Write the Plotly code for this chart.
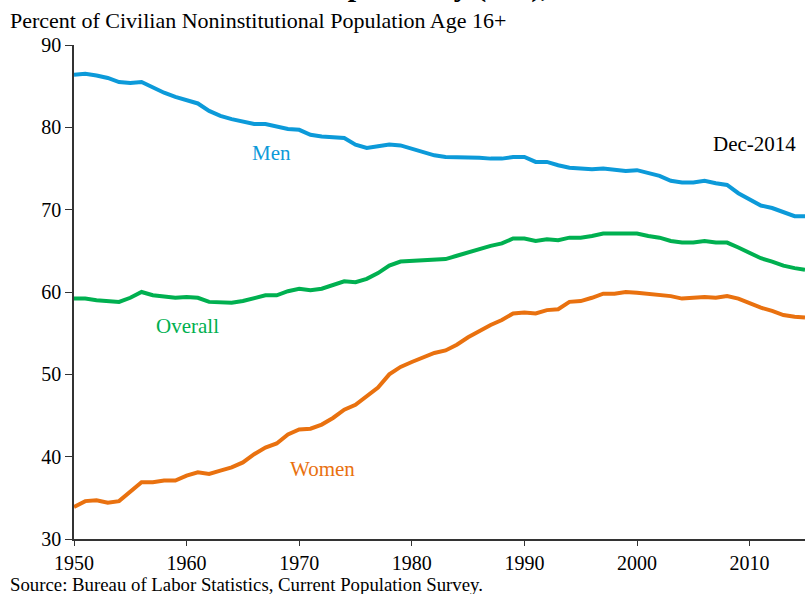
import plotly.graph_objects as go

years = list(range(1950, 2015)) + [2014.92]

men = [86.4, 86.5, 86.3, 86.0, 85.5, 85.4, 85.5, 84.8, 84.2, 83.7,
       83.3, 82.9, 82.0, 81.4, 81.0, 80.7, 80.4, 80.4, 80.1, 79.8,
       79.7, 79.1, 78.9, 78.8, 78.7, 77.9, 77.5, 77.7, 77.9, 77.8,
       77.4, 77.0, 76.6, 76.4, 76.4, 76.3, 76.3, 76.2, 76.2, 76.4,
       76.4, 75.8, 75.8, 75.4, 75.1, 75.0, 74.9, 75.0, 74.9, 74.7,
       74.8, 74.4, 74.1, 73.5, 73.3, 73.3, 73.5, 73.2, 73.0, 72.0,
       71.2, 70.5, 70.2, 69.7, 69.2, 69.2]

overall = [59.2, 59.2, 59.0, 58.9, 58.8, 59.3, 60.0, 59.6, 59.5, 59.3,
           59.4, 59.3, 58.8, 58.7, 58.7, 58.9, 59.2, 59.6, 59.6, 60.1,
           60.4, 60.2, 60.4, 60.8, 61.3, 61.2, 61.6, 62.3, 63.2, 63.7,
           63.8, 63.9, 64.0, 64.0, 64.4, 64.8, 65.3, 65.6, 65.9, 66.5,
           66.5, 66.2, 66.4, 66.3, 66.6, 66.6, 66.8, 67.1, 67.1, 67.1,
           67.1, 66.8, 66.6, 66.2, 66.0, 66.0, 66.2, 66.0, 66.0, 65.4,
           64.7, 64.1, 63.7, 63.2, 62.9, 62.7]

women = [33.9, 34.6, 34.7, 34.4, 34.6, 35.7, 36.9, 36.9, 37.1, 37.1,
         37.7, 38.1, 37.9, 38.3, 38.7, 39.3, 40.3, 41.1, 41.6, 42.7,
         43.3, 43.4, 43.9, 44.7, 45.7, 46.3, 47.3, 48.4, 50.0, 50.9,
         51.5, 52.1, 52.6, 52.9, 53.6, 54.5, 55.3, 56.0, 56.6, 57.4,
         57.5, 57.4, 57.8, 57.9, 58.8, 58.9, 59.3, 59.8, 59.8, 60.0,
         59.9, 59.8, 59.6, 59.5, 59.2, 59.3, 59.4, 59.3, 59.5, 59.2,
         58.6, 58.1, 57.7, 57.2, 57.0, 56.9]

x_ticks = [1950, 1960, 1970, 1980, 1990, 2000, 2010]
y_ticks = [30, 40, 50, 60, 70, 80, 90]

BLUE = "#0C9AD9"
GREEN = "#00B050"
ORANGE = "#E9710F"
FONT = "Liberation Serif"

fig = go.Figure()
for name, vals, col in [("Men", men, BLUE), ("Overall", overall, GREEN), ("Women", women, ORANGE)]:
    fig.add_trace(go.Scatter(x=years, y=vals, mode="lines", name=name,
                             line=dict(color=col, width=4), showlegend=False))

labels = [("Men", 1967.5, 76.9, BLUE), ("Overall", 1960.1, 55.9, GREEN),
          ("Women", 1972.1, 38.5, ORANGE), ("Dec-2014", 2010.4, 78.0, "#000000")]
for txt, lx, ly, col in labels:
    fig.add_annotation(x=lx, y=ly, text=txt, showarrow=False,
                       font=dict(family=FONT, size=21, color=col))

# title, cut off at the top edge as in the reference
fig.add_annotation(xref="paper", yref="paper", x=0.0246, y=1.0815, xanchor="left", yanchor="bottom",
                   text="<b>Labor Force Participation by (Sex), 1950-2014</b>", showarrow=False,
                   font=dict(family=FONT, size=30, color="#000000"))
fig.add_annotation(xref="paper", yref="paper", x=-0.0903, y=1.0506, xanchor="left", yanchor="middle",
                   text="Percent of Civilian Noninstitutional Population Age 16+", showarrow=False,
                   font=dict(family=FONT, size=22, color="#000000"))
fig.add_annotation(xref="paper", yref="paper", x=-0.0903, y=-0.0911, xanchor="left", yanchor="middle",
                   text="Source: Bureau of Labor Statistics, Current Population Survey.", showarrow=False,
                   font=dict(family=FONT, size=18.8, color="#000000"))

fig.update_layout(
    width=805, height=594,
    margin=dict(l=74, r=0, t=45, b=55),
    plot_bgcolor="white", paper_bgcolor="white",
    font=dict(family=FONT, size=20, color="#000000"),
    xaxis=dict(range=[1950, 2014.92], tickvals=x_ticks, showgrid=False, zeroline=False,
               showline=True, linecolor="#333333", linewidth=1.5, ticks="outside",
               ticklen=5, tickcolor="#333333", tickfont=dict(family=FONT, size=20)),
    yaxis=dict(range=[30, 90], tickvals=y_ticks, showgrid=False, zeroline=False,
               showline=True, linecolor="#333333", linewidth=1.5, ticks="outside",
               ticklen=7, tickcolor="#333333", tickfont=dict(family=FONT, size=20)),
)

fig.write_html("out.html", config={"displayModeBar": False},
               post_script="document.body.style.margin='0px';")
